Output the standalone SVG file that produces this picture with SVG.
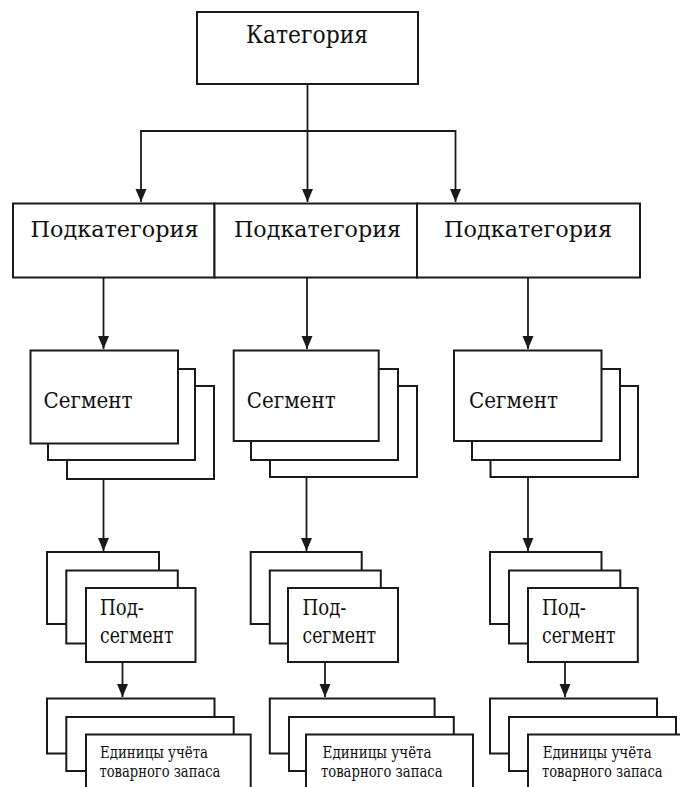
<svg xmlns="http://www.w3.org/2000/svg" width="680" height="787" viewBox="0 0 680 787">
<style>
.b{fill:#fff;stroke:#1a1a1a;stroke-width:2}
.c{fill:none;stroke:#1a1a1a;stroke-width:1.8}
text{font-family:'DejaVu Serif','Liberation Serif',serif;fill:#111}
.t1{font-size:25px}
.t2{font-size:23px}
.t3{font-size:22px}
.t4{font-size:16px}
</style>
<defs>
<marker id="ah" markerUnits="userSpaceOnUse" markerWidth="14" markerHeight="12" refX="13" refY="6" orient="auto" viewBox="0 0 14 12">
<path d="M0,0.5 L13,6 L0,11.5 Z" fill="#1a1a1a"/>
</marker>
</defs>
<rect width="680" height="787" fill="#fff"/>
<g id="connectors">
<path class="c" d="M307.5,84 V202" marker-end="url(#ah)"/>
<path class="c" d="M141,131 H455.5"/>
<path class="c" d="M141,130 V202" marker-end="url(#ah)"/>
<path class="c" d="M455.5,130 V202" marker-end="url(#ah)"/>
<path class="c" d="M103.5,278 V349" marker-end="url(#ah)"/>
<path class="c" d="M307,278 V349" marker-end="url(#ah)"/>
<path class="c" d="M528,278 V349" marker-end="url(#ah)"/>
<path class="c" d="M103.5,479 V551" marker-end="url(#ah)"/>
<path class="c" d="M306.5,477 V551" marker-end="url(#ah)"/>
<path class="c" d="M528,477 V551" marker-end="url(#ah)"/>
<path class="c" d="M122.5,662 V697" marker-end="url(#ah)"/>
<path class="c" d="M325,662 V697" marker-end="url(#ah)"/>
<path class="c" d="M565,662 V697" marker-end="url(#ah)"/>
</g>
<g id="category">
<rect class="b" x="197" y="12" width="221" height="72"/>
<text class="t1" x="307" y="43" text-anchor="middle" textLength="122" lengthAdjust="spacingAndGlyphs">Категория</text>
</g>
<g id="subcategory1">
<rect class="b" x="13" y="203.5" width="201.5" height="74"/>
<text class="t2" x="30.5" y="237" textLength="168" lengthAdjust="spacingAndGlyphs">Подкатегория</text>
</g>
<g id="subcategory2">
<rect class="b" x="214.5" y="203.5" width="202.5" height="74"/>
<text class="t2" x="234" y="237" textLength="167" lengthAdjust="spacingAndGlyphs">Подкатегория</text>
</g>
<g id="subcategory3">
<rect class="b" x="417" y="203.5" width="223" height="74"/>
<text class="t2" x="444" y="237" textLength="168" lengthAdjust="spacingAndGlyphs">Подкатегория</text>
</g>
<g id="segment1">
<rect class="b" x="67" y="386" width="147" height="93"/>
<rect class="b" x="48" y="369" width="147" height="91"/>
<rect class="b" x="30.5" y="350.5" width="147.5" height="93"/>
<text class="t3" x="43.6" y="408" textLength="89" lengthAdjust="spacingAndGlyphs">Сегмент</text>
</g>
<g id="segment2">
<rect class="b" x="270" y="386" width="147" height="91"/>
<rect class="b" x="251" y="369" width="147" height="91"/>
<rect class="b" x="233.7" y="350.5" width="145" height="90.5"/>
<text class="t3" x="246.7" y="408" textLength="89" lengthAdjust="spacingAndGlyphs">Сегмент</text>
</g>
<g id="segment3">
<rect class="b" x="490.5" y="386" width="147.5" height="91"/>
<rect class="b" x="472" y="369" width="148" height="91"/>
<rect class="b" x="454" y="350.5" width="147.5" height="90.5"/>
<text class="t3" x="469" y="408" textLength="89" lengthAdjust="spacingAndGlyphs">Сегмент</text>
</g>
<g id="subsegment1">
<rect class="b" x="47" y="552" width="112" height="72"/>
<rect class="b" x="66.3" y="570.5" width="111.5" height="73"/>
<rect class="b" x="86" y="588" width="109.5" height="74"/>
<text class="t3" x="100" y="615" textLength="44" lengthAdjust="spacingAndGlyphs">Под-</text>
<text class="t3" x="100" y="643" textLength="73.5" lengthAdjust="spacingAndGlyphs">сегмент</text>
</g>
<g id="subsegment2">
<rect class="b" x="250.7" y="552" width="111" height="72"/>
<rect class="b" x="269.8" y="570.5" width="111" height="73"/>
<rect class="b" x="288" y="588" width="110" height="74"/>
<text class="t3" x="302.5" y="615" textLength="44" lengthAdjust="spacingAndGlyphs">Под-</text>
<text class="t3" x="302.5" y="643" textLength="73.5" lengthAdjust="spacingAndGlyphs">сегмент</text>
</g>
<g id="subsegment3">
<rect class="b" x="490" y="552" width="111.5" height="72"/>
<rect class="b" x="509" y="570.5" width="111.3" height="73"/>
<rect class="b" x="528" y="588" width="109.8" height="74"/>
<text class="t3" x="542" y="615" textLength="44" lengthAdjust="spacingAndGlyphs">Под-</text>
<text class="t3" x="542" y="643" textLength="73.5" lengthAdjust="spacingAndGlyphs">сегмент</text>
</g>
<g id="unit1">
<rect class="b" x="47" y="698.5" width="167.5" height="55"/>
<rect class="b" x="66.3" y="717" width="167.4" height="54"/>
<rect class="b" x="86" y="734.5" width="164.7" height="70"/>
<text class="t4" x="100" y="758" textLength="108" lengthAdjust="spacingAndGlyphs">Единицы учёта</text>
<text class="t4" x="99.4" y="777" textLength="121" lengthAdjust="spacingAndGlyphs">товарного запаса</text>
</g>
<g id="unit2">
<rect class="b" x="269.8" y="698.5" width="164.8" height="55"/>
<rect class="b" x="289" y="717" width="164.8" height="54"/>
<rect class="b" x="306" y="734.5" width="167" height="70"/>
<text class="t4" x="322.6" y="758" textLength="109" lengthAdjust="spacingAndGlyphs">Единицы учёта</text>
<text class="t4" x="321" y="777" textLength="121.5" lengthAdjust="spacingAndGlyphs">товарного запаса</text>
</g>
<g id="unit3">
<rect class="b" x="490" y="698.5" width="167" height="55"/>
<rect class="b" x="509" y="717" width="167" height="54"/>
<rect class="b" x="528" y="734.5" width="160" height="70"/>
<text class="t4" x="542.7" y="758" textLength="109" lengthAdjust="spacingAndGlyphs">Единицы учёта</text>
<text class="t4" x="542" y="777" textLength="120.5" lengthAdjust="spacingAndGlyphs">товарного запаса</text>
</g>
</svg>
